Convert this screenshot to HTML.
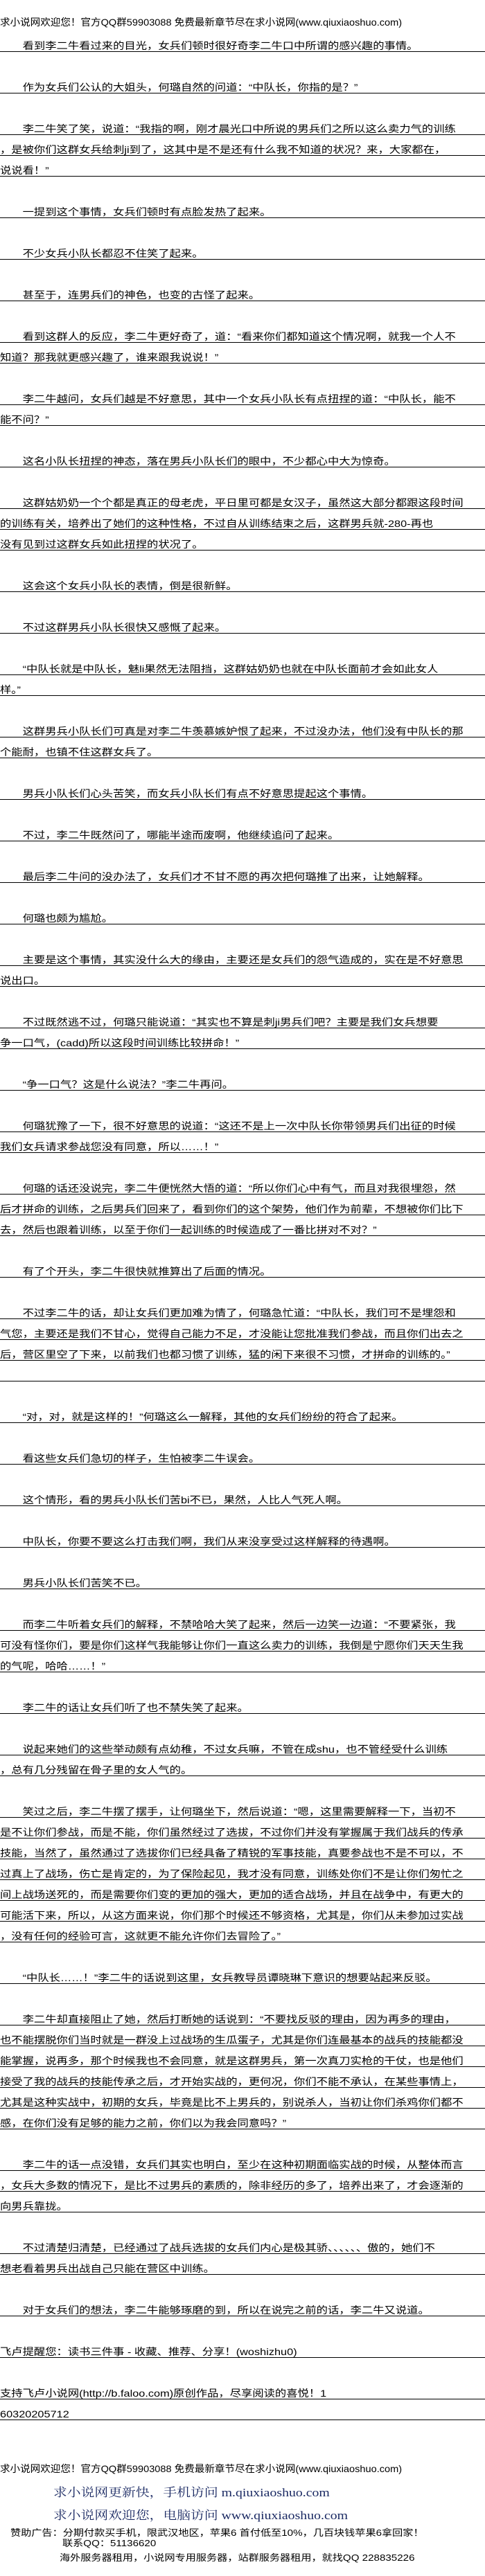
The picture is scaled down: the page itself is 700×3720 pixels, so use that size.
<!DOCTYPE html>
<html>
<head>
<meta charset="utf-8">
<style>
html,body{margin:0;padding:0;background:#fff;}
body{width:700px;height:3720px;position:relative;overflow:hidden;font-family:"Liberation Sans","Noto Sans CJK SC","WenQuanYi Zen Hei",sans-serif;color:#000;}
.r{position:absolute;left:0;width:601px;height:16px;padding-top:13px;line-height:16px;font-size:14px;border-bottom:1px solid #000;transform:scaleX(1.165);transform-origin:0 0;white-space:nowrap;}
.i{padding-left:28px;width:573px;}
.h{position:absolute;left:0;font-size:14px;line-height:16px;transform:scaleX(1.04);transform-origin:0 0;white-space:nowrap;}
.b{position:absolute;left:77px;font-size:17px;line-height:20px;color:#1b2a63;font-family:"Liberation Serif","Noto Serif CJK SC",serif;transform:scaleX(1.165);transform-origin:0 0;white-space:nowrap;}
.s{position:absolute;font-size:13px;line-height:14px;transform:scaleX(1.165);transform-origin:0 0;white-space:nowrap;}
</style>
</head>
<body>
<div class="h" style="top:24px">求小说网欢迎您！官方QQ群59903088 免费最新章节尽在求小说网(www.qiuxiaoshuo.com)</div>

<div class="r i" style="top:45px">看到李二牛看过来的目光，女兵们顿时很好奇李二牛口中所谓的感兴趣的事情。</div>
<div class="r i" style="top:105px">作为女兵们公认的大姐头，何璐自然的问道：“中队长，你指的是？”</div>
<div class="r i" style="top:165px">李二牛笑了笑，说道：“我指的啊，刚才晨光口中所说的男兵们之所以这么卖力气的训练</div>
<div class="r" style="top:195px">，是被你们这群女兵给刺ji到了，这其中是不是还有什么我不知道的状况？来，大家都在，</div>
<div class="r" style="top:225px">说说看！”</div>
<div class="r i" style="top:285px">一提到这个事情，女兵们顿时有点脸发热了起来。</div>
<div class="r i" style="top:345px">不少女兵小队长都忍不住笑了起来。</div>
<div class="r i" style="top:405px">甚至于，连男兵们的神色，也变的古怪了起来。</div>
<div class="r i" style="top:465px">看到这群人的反应，李二牛更好奇了，道：“看来你们都知道这个情况啊，就我一个人不</div>
<div class="r" style="top:495px">知道？那我就更感兴趣了，谁来跟我说说！”</div>
<div class="r i" style="top:555px">李二牛越问，女兵们越是不好意思，其中一个女兵小队长有点扭捏的道：“中队长，能不</div>
<div class="r" style="top:585px">能不问？”</div>
<div class="r i" style="top:645px">这名小队长扭捏的神态，落在男兵小队长们的眼中，不少都心中大为惊奇。</div>
<div class="r i" style="top:705px">这群姑奶奶一个个都是真正的母老虎，平日里可都是女汉子，虽然这大部分都跟这段时间</div>
<div class="r" style="top:735px">的训练有关，培养出了她们的这种性格，不过自从训练结束之后，这群男兵就-280-再也</div>
<div class="r" style="top:765px">没有见到过这群女兵如此扭捏的状况了。</div>
<div class="r i" style="top:825px">这会这个女兵小队长的表情，倒是很新鲜。</div>
<div class="r i" style="top:885px">不过这群男兵小队长很快又感慨了起来。</div>
<div class="r i" style="top:945px">“中队长就是中队长，魅li果然无法阻挡，这群姑奶奶也就在中队长面前才会如此女人</div>
<div class="r" style="top:975px">样。”</div>
<div class="r i" style="top:1035px">这群男兵小队长们可真是对李二牛羡慕嫉妒恨了起来，不过没办法，他们没有中队长的那</div>
<div class="r" style="top:1065px">个能耐，也镇不住这群女兵了。</div>
<div class="r i" style="top:1125px">男兵小队长们心头苦笑，而女兵小队长们有点不好意思提起这个事情。</div>
<div class="r i" style="top:1185px">不过，李二牛既然问了，哪能半途而废啊，他继续追问了起来。</div>
<div class="r i" style="top:1245px">最后李二牛问的没办法了，女兵们才不甘不愿的再次把何璐推了出来，让她解释。</div>
<div class="r i" style="top:1305px">何璐也颇为尴尬。</div>
<div class="r i" style="top:1365px">主要是这个事情，其实没什么大的缘由，主要还是女兵们的怨气造成的，实在是不好意思</div>
<div class="r" style="top:1395px">说出口。</div>
<div class="r i" style="top:1455px">不过既然逃不过，何璐只能说道：“其实也不算是刺ji男兵们吧？主要是我们女兵想要</div>
<div class="r" style="top:1485px">争一口气，(cadd)所以这段时间训练比较拼命！”</div>
<div class="r i" style="top:1545px">“争一口气？这是什么说法？”李二牛再问。</div>
<div class="r i" style="top:1605px">何璐犹豫了一下，很不好意思的说道：“这还不是上一次中队长你带领男兵们出征的时候</div>
<div class="r" style="top:1635px">我们女兵请求参战您没有同意，所以……！”</div>
<div class="r i" style="top:1695px">何璐的话还没说完，李二牛便恍然大悟的道：“所以你们心中有气，而且对我很埋怨，然</div>
<div class="r" style="top:1725px">后才拼命的训练，之后男兵们回来了，看到你们的这个架势，他们作为前辈，不想被你们比下</div>
<div class="r" style="top:1755px">去，然后也跟着训练，以至于你们一起训练的时候造成了一番比拼对不对？”</div>
<div class="r i" style="top:1815px">有了个开头，李二牛很快就推算出了后面的情况。</div>
<div class="r i" style="top:1875px">不过李二牛的话，却让女兵们更加难为情了，何璐急忙道：“中队长，我们可不是埋怨和</div>
<div class="r" style="top:1905px">气您，主要还是我们不甘心，觉得自己能力不足，才没能让您批准我们参战，而且你们出去之</div>
<div class="r" style="top:1935px">后，营区里空了下来，以前我们也都习惯了训练，猛的闲下来很不习惯，才拼命的训练的。”</div>
<div class="r" style="top:1965px"></div>
<div class="r i" style="top:2025px">“对，对，就是这样的！”何璐这么一解释，其他的女兵们纷纷的符合了起来。</div>
<div class="r i" style="top:2085px">看这些女兵们急切的样子，生怕被李二牛误会。</div>
<div class="r i" style="top:2145px">这个情形，看的男兵小队长们苦bi不已，果然，人比人气死人啊。</div>
<div class="r i" style="top:2205px">中队长，你要不要这么打击我们啊，我们从来没享受过这样解释的待遇啊。</div>
<div class="r i" style="top:2265px">男兵小队长们苦笑不已。</div>
<div class="r i" style="top:2325px">而李二牛听着女兵们的解释，不禁哈哈大笑了起来，然后一边笑一边道：“不要紧张，我</div>
<div class="r" style="top:2355px">可没有怪你们，要是你们这样气我能够让你们一直这么卖力的训练，我倒是宁愿你们天天生我</div>
<div class="r" style="top:2385px">的气呢，哈哈……！”</div>
<div class="r i" style="top:2445px">李二牛的话让女兵们听了也不禁失笑了起来。</div>
<div class="r i" style="top:2505px">说起来她们的这些举动颇有点幼稚，不过女兵嘛，不管在成shu，也不管经受什么训练</div>
<div class="r" style="top:2535px">，总有几分残留在骨子里的女人气的。</div>
<div class="r i" style="top:2595px">笑过之后，李二牛摆了摆手，让何璐坐下，然后说道：“嗯，这里需要解释一下，当初不</div>
<div class="r" style="top:2625px">是不让你们参战，而是不能，你们虽然经过了选拔，不过你们并没有掌握属于我们战兵的传承</div>
<div class="r" style="top:2655px">技能，当然了，虽然通过了选拔你们已经具备了精锐的军事技能，真要参战也不是不可以，不</div>
<div class="r" style="top:2685px">过真上了战场，伤亡是肯定的，为了保险起见，我才没有同意，训练处你们不是让你们匆忙之</div>
<div class="r" style="top:2715px">间上战场送死的，而是需要你们变的更加的强大，更加的适合战场，并且在战争中，有更大的</div>
<div class="r" style="top:2745px">可能活下来，所以，从这方面来说，你们那个时候还不够资格，尤其是，你们从未参加过实战</div>
<div class="r" style="top:2775px">，没有任何的经验可言，这就更不能允许你们去冒险了。”</div>
<div class="r i" style="top:2835px">“中队长……！”李二牛的话说到这里，女兵教导员谭晓琳下意识的想要站起来反驳。</div>
<div class="r i" style="top:2895px">李二牛却直接阻止了她，然后打断她的话说到：“不要找反驳的理由，因为再多的理由，</div>
<div class="r" style="top:2925px">也不能摆脱你们当时就是一群没上过战场的生瓜蛋子，尤其是你们连最基本的战兵的技能都没</div>
<div class="r" style="top:2955px">能掌握，说再多，那个时候我也不会同意，就是这群男兵，第一次真刀实枪的干仗，也是他们</div>
<div class="r" style="top:2985px">接受了我的战兵的技能传承之后，才开始实战的，更何况，你们不能不承认，在某些事情上，</div>
<div class="r" style="top:3015px">尤其是这种实战中，初期的女兵，毕竟是比不上男兵的，别说杀人，当初让你们杀鸡你们都不</div>
<div class="r" style="top:3045px">感，在你们没有足够的能力之前，你们以为我会同意吗？”</div>
<div class="r i" style="top:3105px">李二牛的话一点没错，女兵们其实也明白，至少在这种初期面临实战的时候，从整体而言</div>
<div class="r" style="top:3135px">，女兵大多数的情况下，是比不过男兵的素质的，除非经历的多了，培养出来了，才会逐渐的</div>
<div class="r" style="top:3165px">向男兵靠拢。</div>
<div class="r i" style="top:3225px">不过清楚归清楚，已经通过了战兵选拔的女兵们内心是极其骄、、、、、、傲的，她们不</div>
<div class="r" style="top:3255px">想老看着男兵出战自己只能在营区中训练。</div>
<div class="r i" style="top:3315px">对于女兵们的想法，李二牛能够琢磨的到，所以在说完之前的话，李二牛又说道。</div>
<div class="r" style="top:3375px">飞卢提醒您：读书三件事 - 收藏、推荐、分享！(woshizhu0)</div>
<div class="r" style="top:3435px">支持飞卢小说网(http://b.faloo.com)原创作品，尽享阅读的喜悦！1</div>
<div class="r" style="top:3465px">60320205712</div>

<div class="h" style="top:3557px">求小说网欢迎您！官方QQ群59903088 免费最新章节尽在求小说网(www.qiuxiaoshuo.com)</div>
<div class="b" style="top:3590px">求小说网更新快，手机访问 m.qiuxiaoshuo.com</div>
<div class="b" style="top:3623px">求小说网欢迎您，电脑访问 www.qiuxiaoshuo.com</div>
<div class="s" style="top:3651px;left:15px">赞助广告：分期付款买手机，限武汉地区，苹果6 首付低至10%，几百块钱苹果6拿回家！</div>
<div class="s" style="top:3666px;left:90px">联系QQ：51136620</div>
<div class="s" style="top:3687px;left:86px">海外服务器租用，小说网专用服务器，站群服务器租用，就找QQ 228835226</div>
</body>
</html>
